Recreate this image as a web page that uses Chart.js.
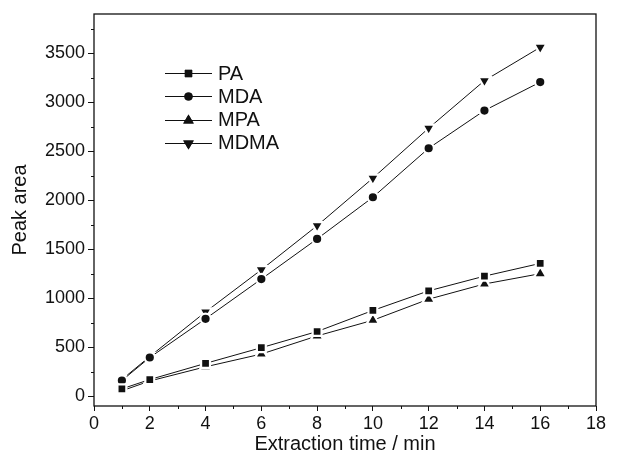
<!DOCTYPE html>
<html>
<head>
<meta charset="utf-8">
<script src="https://cdn.jsdelivr.net/npm/chart.js@4/dist/chart.umd.min.js"></script>
<style>
  html, body { margin: 0; padding: 0; background: #fff; }
  #wrap { width: 629px; height: 457px; }
</style>
</head>
<body>
<div id="wrap"><canvas id="c" width="629" height="457"></canvas></div>
<script>
// Extraction time (min) and peak areas of the four analytes
const extractionTimes = [1, 2, 4, 6, 8, 10, 12, 14, 16];
const paArea   = [75, 170, 335, 495, 660, 875, 1075, 1225, 1355];
const mdaArea  = [160, 395, 790, 1195, 1605, 2030, 2530, 2915, 3205];
const mpaArea  = [55, 155, 300, 430, 615, 775, 990, 1145, 1250];
const mdmaArea = [170, 405, 860, 1290, 1740, 2225, 2735, 3220, 3560];

const seriesNames = ['PA', 'MDA', 'MPA', 'MDMA'];
const xTickValues = [0, 2, 4, 6, 8, 10, 12, 14, 16, 18];
const yTickValues = [0, 500, 1000, 1500, 2000, 2500, 3000, 3500];

const FONT = "'Liberation Sans', Arial, Helvetica, sans-serif";
const INK = '#111';

function toPoints(values) {
  return extractionTimes.map((t, i) => ({ x: t, y: values[i] }));
}

const markerStyles = [
  { pointStyle: 'rect', radius: 6.3, rotation: 0 },
  { pointStyle: 'circle', radius: 5.2, rotation: 0 },
  { pointStyle: 'triangle', radius: 7.2, rotation: 0 },
  { pointStyle: 'triangle', radius: 7.2, rotation: 180 }
];

const seriesValues = [paArea, mdaArea, mpaArea, mdmaArea];

const datasets = seriesNames.map((name, i) => ({
  label: name,
  data: toPoints(seriesValues[i]),
  borderColor: INK,
  borderWidth: 1,
  backgroundColor: INK,
  pointStyle: markerStyles[i].pointStyle,
  pointRadius: markerStyles[i].radius,
  pointRotation: markerStyles[i].rotation,
  pointBackgroundColor: INK,
  pointBorderColor: '#fff',
  pointBorderWidth: 2.2,
  pointHoverRadius: markerStyles[i].radius,
  tension: 0,
  fill: false
}));

// Major + minor tick positions
const xAllTicks = [];
for (let v = xTickValues[0]; v <= xTickValues[xTickValues.length - 1]; v += 1) xAllTicks.push(v);
const yAllTicks = [];
for (let v = yTickValues[0]; v <= yTickValues[yTickValues.length - 1] + 250; v += 250) yAllTicks.push(v);

const isMajorX = v => xTickValues.includes(v);
const isMajorY = v => yTickValues.includes(v);

// Frame around the plot area plus the short minor tick marks
const framePlugin = {
  id: 'frame',
  afterDraw(chart) {
    const { ctx, chartArea: a } = chart;
    ctx.save();
    ctx.strokeStyle = INK;
    ctx.lineWidth = 1.3;
    ctx.strokeRect(a.left, a.top, a.right - a.left, a.bottom - a.top);
    ctx.lineWidth = 1;
    const xs = chart.scales.x, ys = chart.scales.y;
    ctx.beginPath();
    xAllTicks.filter(v => !isMajorX(v)).forEach(v => {
      const px = Math.round(xs.getPixelForValue(v)) + 0.5;
      ctx.moveTo(px, a.bottom);
      ctx.lineTo(px, a.bottom + 3);
    });
    yAllTicks.filter(v => !isMajorY(v)).forEach(v => {
      const py = Math.round(ys.getPixelForValue(v)) + 0.5;
      ctx.moveTo(a.left, py);
      ctx.lineTo(a.left - 3, py);
    });
    ctx.stroke();
    ctx.restore();
  }
};

// Legend drawn inside the plot area, one row per series
const legendPlugin = {
  id: 'innerLegend',
  afterDraw(chart) {
    const { ctx } = chart;
    const x0 = 165, x1 = 212, textX = 218, y0 = 73, dy = 23.3;
    ctx.save();
    chart.data.datasets.forEach((ds, i) => {
      const y = y0 + i * dy;
      ctx.strokeStyle = INK;
      ctx.lineWidth = 1;
      ctx.beginPath();
      ctx.moveTo(x0, Math.round(y) + 0.5);
      ctx.lineTo(x1, Math.round(y) + 0.5);
      ctx.stroke();
      Chart.helpers.drawPoint(ctx, {
        pointStyle: ds.pointStyle,
        radius: ds.pointRadius - 1.1,
        rotation: ds.pointRotation,
        borderWidth: 0
      }, (x0 + x1) / 2, Math.round(y) + 0.5);
      ctx.fillStyle = INK;
      ctx.fill();
      ctx.font = '20px ' + FONT;
      ctx.textBaseline = 'middle';
      ctx.textAlign = 'left';
      ctx.fillText(ds.label, textX, y + 1);
    });
    ctx.restore();
  }
};

new Chart(document.getElementById('c'), {
  type: 'line',
  data: { datasets },
  options: {
    responsive: false,
    animation: false,
    events: [],
    layout: { padding: { left: 0, right: 33, top: 14, bottom: 0 } },
    plugins: { legend: { display: false }, tooltip: { enabled: false } },
    scales: {
      x: {
        type: 'linear',
        min: 0,
        max: 18,
        afterBuildTicks(scale) { scale.ticks = xAllTicks.map(v => ({ value: v })); },
        afterFit(scale) { scale.height = 51; },
        border: { display: false },
        grid: {
          drawOnChartArea: false,
          drawTicks: true,
          tickLength: 5,
          tickColor: ctx => (ctx.tick && isMajorX(ctx.tick.value)) ? INK : 'rgba(0,0,0,0)',
          tickWidth: 1
        },
        ticks: {
          autoSkip: false,
          maxRotation: 0,
          padding: 2,
          color: INK,
          font: { family: FONT, size: 18 },
          callback: v => isMajorX(v) ? String(v) : ''
        },
        title: {
          display: true,
          text: 'Extraction time / min',
          color: INK,
          font: { family: FONT, size: 20 },
          padding: { top: 0, bottom: 1 }
        }
      },
      y: {
        type: 'linear',
        min: -100,
        max: 3900,
        afterBuildTicks(scale) { scale.ticks = yAllTicks.map(v => ({ value: v })); },
        afterFit(scale) { scale.width = 94; },
        border: { display: false },
        grid: {
          drawOnChartArea: false,
          drawTicks: true,
          tickLength: 6,
          tickColor: ctx => (ctx.tick && isMajorY(ctx.tick.value)) ? INK : 'rgba(0,0,0,0)',
          tickWidth: 1
        },
        ticks: {
          autoSkip: false,
          padding: 3,
          color: INK,
          font: { family: FONT, size: 18 },
          callback: v => isMajorY(v) ? String(v) : ''
        },
        title: {
          display: true,
          text: 'Peak area',
          color: INK,
          font: { family: FONT, size: 20 },
          padding: { top: 8, bottom: 0 }
        }
      }
    }
  },
  plugins: [framePlugin, legendPlugin]
});
</script>
</body>
</html>
